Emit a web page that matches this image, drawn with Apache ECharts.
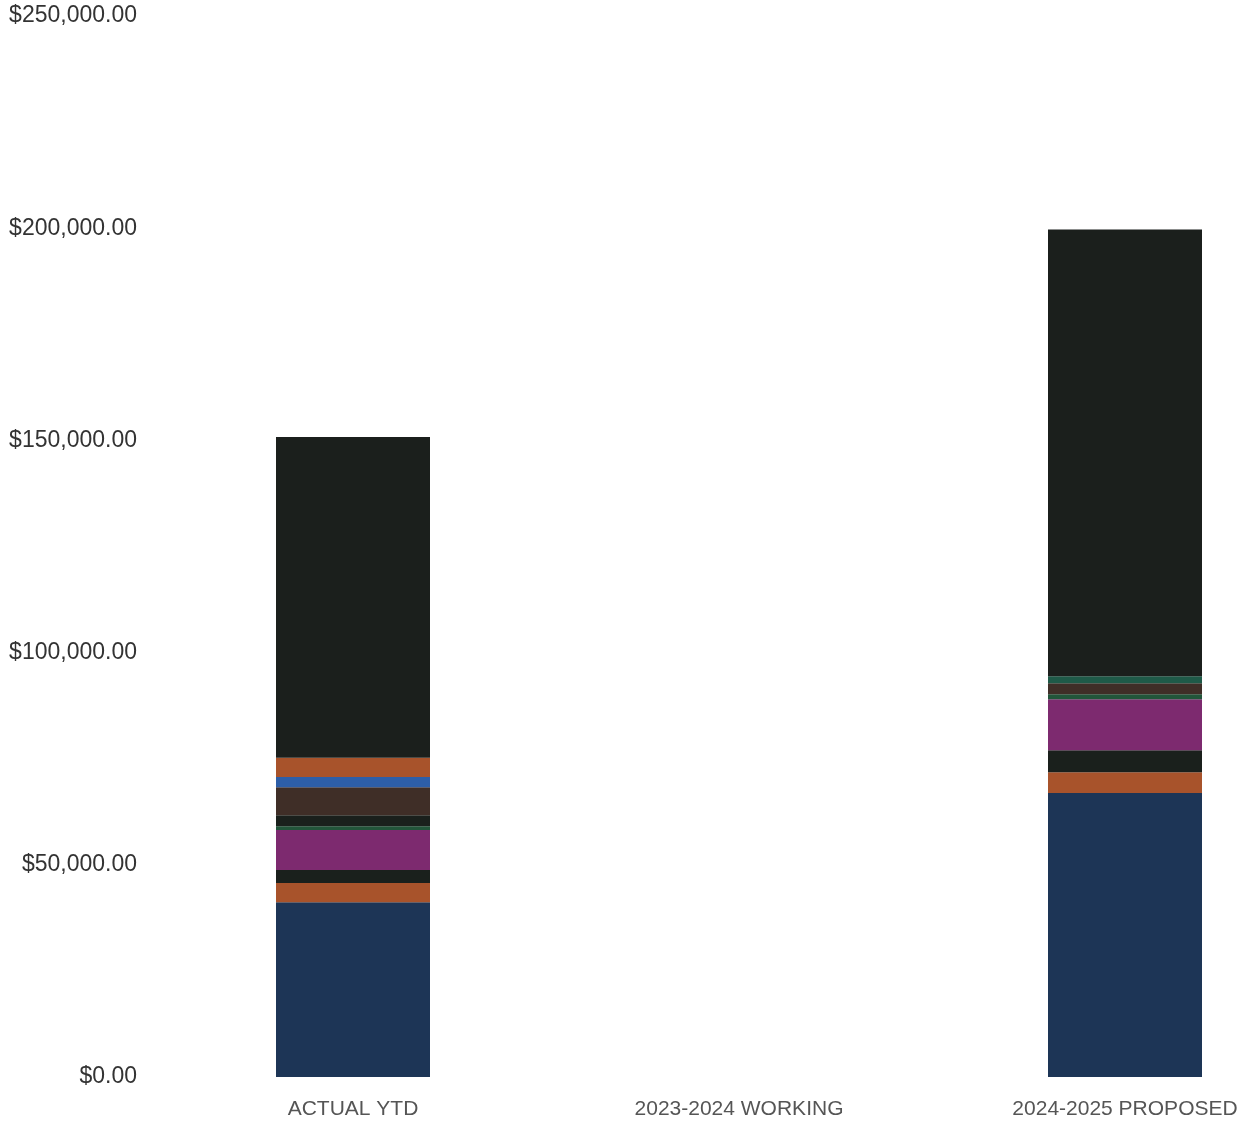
<!DOCTYPE html>
<html>
<head>
<meta charset="utf-8">
<script src="https://cdn.jsdelivr.net/npm/echarts@6/dist/echarts.min.js"></script>
<style>html,body{margin:0;padding:0;background:#fff}#c{width:1249px;height:1124px}</style>
</head>
<body>
<div id="c"></div>
<script>
const categories = ['ACTUAL YTD', '2023-2024 WORKING', '2024-2025 PROPOSED'];
const yTicks = [0, 50000, 100000, 150000, 200000, 250000];
// stacked segments, bottom to top
const navy    = [41200, 0, 66900];
const orange1 = [4500, 0, 4900];
const black1  = [3100, 0, 5200];
const magenta = [9400, 0, 12000];
const green1  = [900, 0, 1200];
const black2  = [2600, 0, 0];
const brown   = [6600, 0, 2600];
const blue    = [2400, 0, 0];
const teal    = [0, 0, 1600];
const orange2 = [4500, 0, 0];
const blackTop= [75600, 0, 105300];

const seriesDefs = [
  ['navy', navy, '#1d3556'],
  ['orange1', orange1, '#a8532b'],
  ['black1', black1, '#1a201c'],
  ['magenta', magenta, '#7d2a6f'],
  ['green1', green1, '#22553a'],
  ['black2', black2, '#1a201c'],
  ['brown', brown, '#3f2e27'],
  ['blue', blue, '#2d5ea8'],
  ['teal', teal, '#1f5a48'],
  ['orange2', orange2, '#a8532b'],
  ['blackTop', blackTop, '#1b1f1c']
];

const chart = echarts.init(document.getElementById('c'));
chart.setOption({
  animation: false,
  grid: {left: 353, right: 124, top: 16, bottom: 47, containLabel: false},
  xAxis: {
    type: 'category', data: categories, boundaryGap: false,
    axisLine: {show: false}, axisTick: {show: false},
    axisLabel: {color: '#555', fontSize: 21, fontFamily: 'Liberation Sans, Arial', margin: 22, interval: 0}
  },
  yAxis: {
    type: 'value', min: yTicks[0], max: yTicks[yTicks.length - 1], interval: 50000,
    splitLine: {show: false}, axisLine: {show: false}, axisTick: {show: false},
    axisLabel: {
      color: '#333', fontSize: 23, fontFamily: 'Liberation Sans, Arial', margin: 216,
      formatter: v => '$' + v.toLocaleString('en-US', {minimumFractionDigits: 2, maximumFractionDigits: 2})
    }
  },
  series: seriesDefs.map(([name, data, color]) => ({
    name, type: 'bar', stack: 'total', data, barWidth: 154,
    itemStyle: {color}
  }))
});
</script>
</body>
</html>
